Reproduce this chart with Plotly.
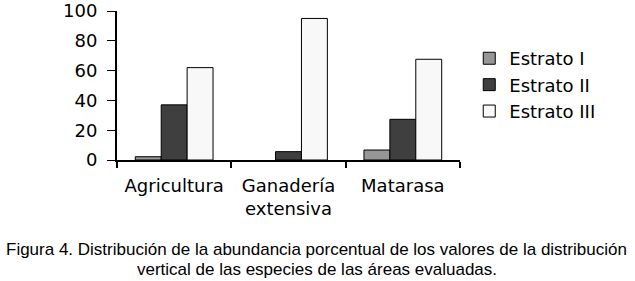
import plotly.graph_objects as go

categories = ["Agricultura", "Ganadería<br>extensiva", "Matarasa"]
series_names = ["Estrato I", "Estrato II", "Estrato III"]
estrato_1 = [2.2, 0, 6.7]
estrato_2 = [37, 5.6, 27.3]
estrato_3 = [62, 95, 67.6]
y_ticks = [0, 20, 40, 60, 80, 100]
caption_lines = [
    "Figura 4. Distribución de la abundancia porcentual de los valores de la distribución",
    "vertical de las especies de las áreas evaluadas.",
]

colors = ["#969696", "#3f3f3f", "#f8f8f8"]
values = [estrato_1, estrato_2, estrato_3]

fig = go.Figure()
for name, vals, col in zip(series_names, values, colors):
    fig.add_trace(go.Bar(
        x=categories, y=vals, name=name,
        marker=dict(color=col, line=dict(color="black",
                                         width=[1 if v > 0 else 0 for v in vals])),
        legendgroup=name,
    ))

caption_y = [-0.604, -0.738]
annotations = [
    dict(text=t, xref="paper", yref="paper", x=0.582, y=yy,
         xanchor="center", yanchor="middle", showarrow=False,
         font=dict(family="Liberation Sans", size=17, color="black"))
    for t, yy in zip(caption_lines, caption_y)
]

font_main = "DejaVu Sans"
fig.update_layout(
    width=635, height=281,
    margin=dict(l=117, r=175, t=11, b=121, autoexpand=False),
    paper_bgcolor="white", plot_bgcolor="white",
    barmode="group", bargap=0.32, bargroupgap=0,
    font=dict(family=font_main, size=18, color="black"),
    showlegend=True,
    legend=dict(x=1.027, y=0.503, xanchor="left", yanchor="middle",
                font=dict(family=font_main, size=18, color="black"),
                traceorder="grouped", tracegroupgap=0,
                bgcolor="rgba(0,0,0,0)"),
    annotations=annotations,
)
fig.update_xaxes(
    showline=True, linecolor="black", linewidth=2, automargin=False,
    ticks="outside", tickson="boundaries", ticklen=6, tickcolor="black", tickwidth=2,
    ticklabelstandoff=8,
    showgrid=False, tickfont=dict(family=font_main, size=18),
)
fig.update_yaxes(
    range=[0, 100], tickvals=y_ticks, showline=True, linecolor="black", linewidth=2,
    automargin=False,
    ticks="outside", ticklen=8, tickcolor="black", tickwidth=1,
    ticklabelstandoff=6,
    showgrid=False, zeroline=False, tickfont=dict(family=font_main, size=18),
)
fig.write_html("out.html",
               config={"displayModeBar": False},
               post_script="document.body.style.margin='0';document.body.style.overflow='hidden';")
